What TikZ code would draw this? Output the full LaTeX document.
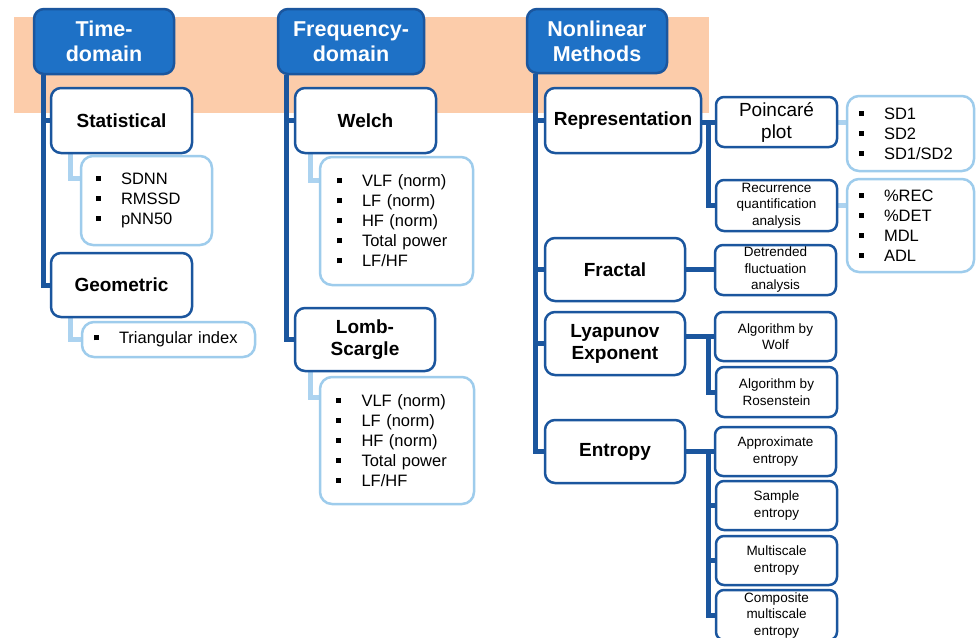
\documentclass[tikz,border=0pt]{standalone}
\usepackage{fontspec}
\setmainfont{Liberation Sans}
\usetikzlibrary{calc}
\definecolor{dkblue}{RGB}{27,86,158}
\definecolor{hdfill}{RGB}{30,113,198}
\definecolor{ltblue}{RGB}{158,204,236}
\definecolor{ltconn}{RGB}{172,211,240}
\definecolor{peach}{RGB}{252,204,170}
\newcommand\itm{\makebox[25.5pt][l]{\rule[3.5pt]{5pt}{5pt}}}
\pgfdeclarelayer{bg}
\pgfdeclarelayer{back}
\pgfsetlayers{back,bg,main}
\begin{document}
\begin{tikzpicture}[x=1pt,y=-1pt,
 hdr/.style={draw=dkblue, fill=hdfill, line width=2.5pt, rounded corners=10pt, text=white, font=\fontsize{21.5}{25}\selectfont\bfseries, align=center, inner sep=0pt},
 dbox/.style={draw=dkblue, fill=white, line width=2.5pt, rounded corners=10pt, font=\fontsize{19}{22}\selectfont\bfseries, align=center, inner sep=0pt},
 sbox/.style={draw=dkblue, fill=white, line width=2.5pt, rounded corners=8pt, font=\fontsize{13.5}{16.5}\selectfont, align=center, inner sep=0pt, minimum width=121pt, minimum height=49pt},
 lbox/.style={draw=ltblue, fill=white, line width=2.5pt, rounded corners=12pt, font=\fontsize{16.5}{20}\selectfont, align=left, inner ysep=0pt},
 trunk/.style={draw=dkblue, line width=5pt},
 lconn/.style={draw=ltconn, line width=5pt},
]
\useasboundingbox (0,0) rectangle (976,637);
\begin{pgfonlayer}{back}
\fill[white] (0,0) rectangle (976,637);
\fill[peach] (14,17) rectangle (709,113);
\end{pgfonlayer}

% headers
\node[hdr, minimum width=140pt, minimum height=65pt] (td) at (104,41.5) {Time-\\domain};
\node[hdr, minimum width=146pt, minimum height=65pt] (fd) at (351,41.5) {Frequency-\\domain};
\node[hdr, minimum width=140pt, minimum height=64pt] (nl) at (597,41) {Nonlinear\\Methods};

% time domain
\node[dbox, minimum width=141pt, minimum height=65pt] (stat) at (121.5,120.5) {Statistical};
\node[dbox, minimum width=141pt, minimum height=64pt] (geo) at (121.5,285) {Geometric};
\node[lbox, inner xsep=14.5pt, text width=102pt, minimum height=89pt] (sdnn) at (146.5,200.5) {\itm SDNN\\\itm RMSSD\\\itm pNN50};
\node[lbox, inner xsep=11.5pt, text width=150pt, minimum height=35pt] (tri) at (168.5,339.5) {\itm Triangular index};

% frequency domain
\node[dbox, minimum width=141pt, minimum height=65pt] (welch) at (365.5,120.5) {Welch};
\node[dbox, minimum width=140pt, minimum height=63pt] (lomb) at (365,339.5) {Lomb-\\Scargle};
\node[lbox, inner xsep=16.5pt, text width=120pt, minimum height=128pt] (wl) at (396.5,221) {\itm VLF (norm)\\\itm LF (norm)\\\itm HF (norm)\\\itm Total power\\\itm LF/HF};
\node[lbox, inner xsep=16pt, text width=122pt, minimum height=127pt] (ll) at (397,440.5) {\itm VLF (norm)\\\itm LF (norm)\\\itm HF (norm)\\\itm Total power\\\itm LF/HF};

% nonlinear
\node[dbox, minimum width=156pt, minimum height=65pt] (rep) at (623,120.5) {Representation};
\node[dbox, minimum width=140pt, minimum height=63pt] (frac) at (615,269.5) {Fractal};
\node[dbox, minimum width=140pt, minimum height=63pt] (lyap) at (615,343.5) {Lyapunov\\Exponent};
\node[dbox, minimum width=140pt, minimum height=63pt] (ent) at (615,451.5) {Entropy};

\node[sbox, minimum height=50pt, font=\fontsize{19}{22}\selectfont] (poin) at (776.5,122) {Poincar\'e\\plot};
\node[sbox, minimum height=51pt] (rqa) at (776.5,205.5) {Recurrence\\quantification\\analysis};
\node[sbox, minimum height=50pt] (dfa) at (775.5,270) {Detrended\\fluctuation\\analysis};
\node[sbox] (wolf) at (775.5,336.5) {Algorithm by\\Wolf};
\node[sbox, minimum height=50pt] (ros) at (776.5,392) {Algorithm by\\Rosenstein};
\node[sbox] (apen) at (775.5,451.5) {Approximate\\entropy};
\node[sbox] (samp) at (776.5,505.5) {Sample\\entropy};
\node[sbox] (mse) at (776.5,560.5) {Multiscale\\entropy};
\node[sbox, minimum height=50pt] (cmse) at (776.5,615) {Composite\\multiscale\\entropy};

\node[lbox, inner xsep=11.5pt, text width=104pt, minimum height=75pt] (sd) at (910.5,133.5) {\itm SD1\\\itm SD2\\\itm SD1/SD2};
\node[lbox, inner xsep=11.5pt, text width=104pt, minimum height=93pt] (rec) at (910.5,225.5) {\itm \%REC\\\itm \%DET\\\itm MDL\\\itm ADL};

\coordinate (jx) at (708,0);

\begin{pgfonlayer}{bg}
% trunks
\draw[trunk] ([xshift=11pt]td.south west) |- (stat.west);
\draw[trunk] ([xshift=11pt]td.south west) |- (geo.west);
\draw[trunk] ([xshift=10pt]fd.south west) |- (welch.west);
\draw[trunk] ([xshift=10pt]fd.south west) |- (lomb.west);
\draw[trunk] ([xshift=10pt]nl.south west) |- (rep.west);
\draw[trunk] ([xshift=10pt]nl.south west) |- (frac.west);
\draw[trunk] ([xshift=10pt]nl.south west) |- (lyap.west);
\draw[trunk] ([xshift=10pt]nl.south west) |- (ent.west);
% light connectors
\draw[lconn] ([xshift=21pt]stat.south west) |- ([yshift=-24pt]sdnn.north west);
\draw[lconn] ([xshift=21pt]geo.south west) |- (tri.west);
\draw[lconn] ([xshift=17pt]welch.south west) |- ([yshift=-25pt]wl.north west);
\draw[lconn] ([xshift=17pt]lomb.south west) |- ([yshift=-22pt]ll.north west);
\draw[lconn] (poin.east) -- (poin.east -| sd.west);
\draw[lconn] (rqa.east) -- (rqa.east -| rec.west);
% nonlinear sub connectors
\draw[trunk] (rep.east |- poin.west) -- (poin.west);
\draw[trunk] (jx |- poin.west) |- (rqa.west);
\draw[trunk] (frac.east) -- (frac.east -| dfa.west);
\draw[trunk] (lyap.east |- wolf.west) -- (wolf.west);
\draw[trunk] (jx |- wolf.west) |- (ros.west);
\draw[trunk] (ent.east |- apen.west) -- (apen.west);
\draw[trunk] (jx |- apen.west) |- (samp.west);
\draw[trunk] (jx |- apen.west) |- (mse.west);
\draw[trunk] (jx |- apen.west) |- (cmse.west);
\end{pgfonlayer}
\end{tikzpicture}
\end{document}
